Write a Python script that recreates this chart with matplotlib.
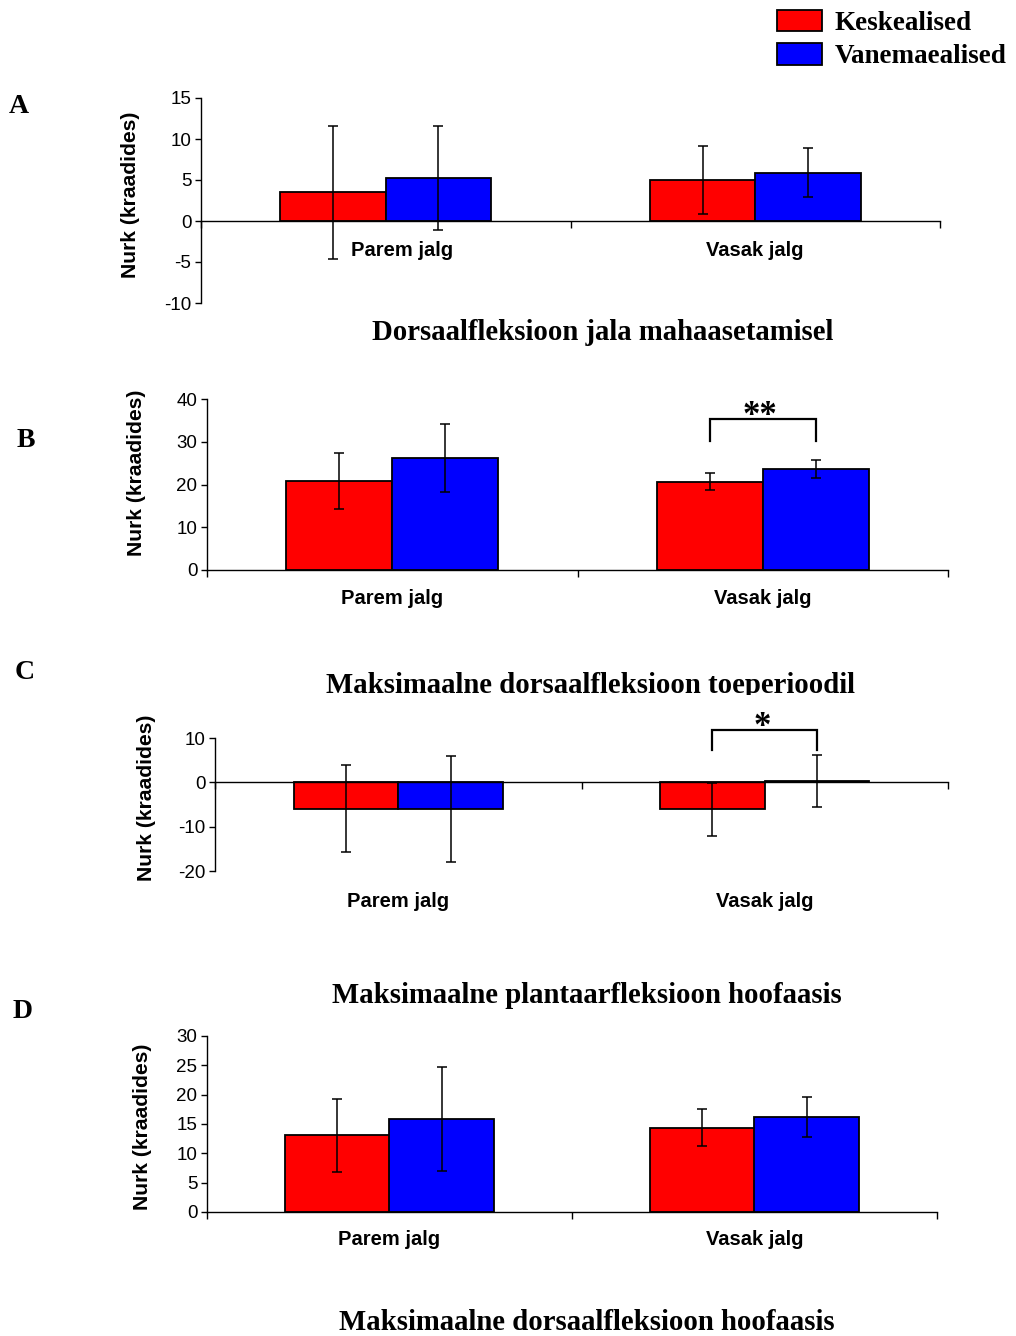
import matplotlib
matplotlib.use("Agg")
import matplotlib.pyplot as plt
from matplotlib.transforms import Bbox, TransformedBbox, blended_transform_factory, offset_copy
import numpy as np

W, H = 1016, 1336
DPI = 100

categories = ["Parem jalg", "Vasak jalg"]
series_names = ["Keskealised", "Vanemaealised"]
colors = ["#FF0000", "#0000FF"]

# Panel A: Dorsaalfleksioon jala mahaasetamisel
A_kesk = [3.5, 5.0]
A_kesk_sd = [8.1, 4.2]
A_van = [5.2, 5.9]
A_van_sd = [6.35, 3.0]
A_ticks = [-10, -5, 0, 5, 10, 15]

# Panel B: Maksimaalne dorsaalfleksioon toeperioodil
B_kesk = [20.8, 20.7]
B_kesk_sd = [6.6, 1.9]
B_van = [26.2, 23.7]
B_van_sd = [8.0, 2.1]
B_ticks = [0, 10, 20, 30, 40]
B_bracket = [35.3, 30.2]  # top, leg end
B_sig = "**"

# Panel C: Maksimaalne plantaarfleksioon hoofaasis
C_kesk = [-6.0, -6.1]
C_kesk_sd = [9.8, 5.9]
C_van = [-6.0, 0.3]
C_van_sd = [12.0, 5.8]
C_ticks = [-20, -10, 0, 10]
C_bracket = [11.9, 7.2]
C_sig = "*"

# Panel D: Maksimaalne dorsaalfleksioon hoofaasis
D_kesk = [13.1, 14.4]
D_kesk_sd = [6.2, 3.1]
D_van = [15.9, 16.2]
D_van_sd = [8.9, 3.4]
D_ticks = [0, 5, 10, 15, 20, 25, 30]

titles = ["Dorsaalfleksioon jala mahaasetamisel",
          "Maksimaalne dorsaalfleksioon toeperioodil",
          "Maksimaalne plantaarfleksioon hoofaasis",
          "Maksimaalne dorsaalfleksioon hoofaasis"]
letters = ["A", "B", "C", "D"]
ylabel = "Nurk (kraadides)"

SANS = "Liberation Sans"
SERIF = "Liberation Serif"

fig = plt.figure(figsize=(W / DPI, H / DPI), dpi=DPI)
fig.patch.set_facecolor("white")


def fx(px):
    return px / W


def fy(py):
    return 1 - py / H


# pixel layout: (left, right, top, bottom)
boxes = [(201, 940, 98, 303), (207, 948, 399, 570), (215, 948, 738, 871), (207, 937, 1036, 1212)]
panels = [
    (A_kesk, A_kesk_sd, A_van, A_van_sd, A_ticks, None, None),
    (B_kesk, B_kesk_sd, B_van, B_van_sd, B_ticks, B_bracket, B_sig),
    (C_kesk, C_kesk_sd, C_van, C_van_sd, C_ticks, C_bracket, C_sig),
    (D_kesk, D_kesk_sd, D_van, D_van_sd, D_ticks, None, None),
]
catlabel_y = [0.2585, -0.164, -0.2256, -0.159]
catlabel_dx = [[0.045, 0.0], [0, 0], [0, 0], [0, 0]]
ylabel_pos = [(131, 195), (136, 473), (147, 798), (143, 1127)]
title_pos = [(603, 340), (590, 693), (587, 1003), (587, 1330)]
letter_pos = [(19, 113), (26, 447), (25, 679), (23, 1018)]
title_clip = [None, 695, None, None]

bw = 0.2855
x = np.array([0.5, 1.5])
axes = []
bars_first = None
for i, (k, ksd, v, vsd, ticks, br, sig) in enumerate(panels):
    l, r, t, b = boxes[i]
    ax = fig.add_axes([fx(l), fy(b), (r - l) / W, (b - t) / H])
    axes.append(ax)
    b1 = ax.bar(x - bw / 2, k, bw, color=colors[0], edgecolor="black", linewidth=1.3, zorder=2)
    b2 = ax.bar(x + bw / 2, v, bw, color=colors[1], edgecolor="black", linewidth=1.3, zorder=2)
    if bars_first is None:
        bars_first = (b1, b2)
    ax.errorbar(x - bw / 2, k, yerr=ksd, fmt="none", ecolor="black", elinewidth=1.1,
                capsize=3.7, capthick=1.1, zorder=3)
    ax.errorbar(x + bw / 2, v, yerr=vsd, fmt="none", ecolor="black", elinewidth=1.1,
                capsize=3.7, capthick=1.1, zorder=3)
    ax.set_xlim(0, 2)
    ax.set_ylim(min(ticks), max(ticks))
    ax.set_yticks(ticks)
    ax.set_yticklabels([str(tk) for tk in ticks], fontfamily=SANS, fontsize=13.5)
    ax.set_xticks([0, 1, 2])
    ax.set_xticklabels([])
    ax.spines["top"].set_visible(False)
    ax.spines["right"].set_visible(False)
    ax.spines["bottom"].set_position(("data", 0))
    ax.spines["bottom"].set_linewidth(1.0)
    ax.spines["left"].set_linewidth(1.0)
    ax.tick_params(axis="y", direction="out", length=4, width=1.0, pad=3)
    ax.tick_params(axis="x", direction="out", length=5, width=1.0)
    ax.patch.set_alpha(0)
    trans = blended_transform_factory(ax.transData, ax.transAxes)
    for j, c in enumerate(categories):
        ax.text(x[j] + catlabel_dx[i][j], catlabel_y[i], c, transform=trans, ha="center", va="center",
                fontfamily=SANS, fontweight="bold", fontsize=14.5, clip_on=False)
    if br is not None:
        xl, xr = x[1] - bw / 2, x[1] + bw / 2
        ax.plot([xl, xl, xr, xr], [br[1], br[0], br[0], br[1]], color="black", lw=1.6,
                clip_on=False, zorder=4, solid_joinstyle="miter")
        st = offset_copy(ax.transData, fig=fig, x=-3, y=-6, units="dots")
        ax.text((xl + xr) / 2, br[0], sig, transform=st, ha="center", va="baseline",
                fontfamily=SERIF, fontweight="bold", fontsize=25, clip_on=False)
    # y label
    fig.text(fx(ylabel_pos[i][0]), fy(ylabel_pos[i][1]), ylabel, rotation=90, ha="center",
             va="center", fontfamily=SANS, fontweight="bold", fontsize=15.2)
    tt = fig.text(fx(title_pos[i][0]), fy(title_pos[i][1]), titles[i], ha="center", va="baseline",
                  fontfamily=SERIF, fontweight="bold", fontsize=20.7)
    if title_clip[i] is not None:
        tt.set_clip_box(TransformedBbox(Bbox.from_extents(0, fy(title_clip[i]), 1, 1), fig.transFigure))
        tt.set_clip_on(True)
    fig.text(fx(letter_pos[i][0]), fy(letter_pos[i][1]), letters[i], ha="center", va="baseline",
             fontfamily=SERIF, fontweight="bold", fontsize=20)

fs_leg = 19.5
leg = fig.legend(bars_first, series_names, loc="upper left",
                 bbox_to_anchor=(fx(777), fy(10)), frameon=False,
                 prop={"family": SERIF, "weight": "bold", "size": fs_leg},
                 handlelength=1.67, handleheight=0.84, handletextpad=0.45,
                 labelspacing=0.26, borderpad=0, borderaxespad=0)

fig.savefig("out.png", dpi=DPI, facecolor="white")
